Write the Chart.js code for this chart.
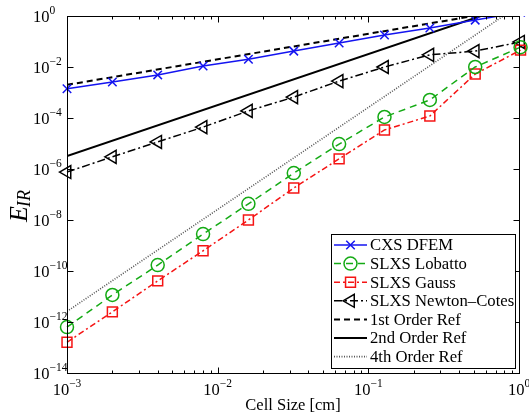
<!DOCTYPE html>
<html>
<head>
<meta charset="utf-8">
<script src="https://cdn.jsdelivr.net/npm/chart.js@4.4.0/dist/chart.umd.min.js"></script>
<style>
  html, body { margin: 0; padding: 0; background: #fff; }
  #wrap { width: 529px; height: 414px; }
</style>
</head>
<body>
<div id="wrap"><canvas id="chart" width="529" height="414"></canvas></div>
<script>
// Data (log-log)
const cellSize = [0.001, 0.002, 0.004, 0.008, 0.016, 0.032, 0.064, 0.128, 0.256, 0.512, 1.024];
const cxsDfem = [1.4e-3, 2.6e-3, 4.9e-3, 1.1e-2, 2.0e-2, 4.2e-2, 8.7e-2, 0.18, 0.34, 0.69, 1.4];
const slxsLobatto = [6.3e-13, 1.15e-11, 1.7e-10, 2.8e-9, 4.3e-8, 6.9e-7, 9.5e-6, 1.1e-4, 5.1e-4, 1.0e-2, 6.0e-2];
const slxsGauss = [1.6e-13, 2.5e-12, 4.1e-11, 6.2e-10, 1.0e-8, 1.8e-7, 2.5e-6, 3.4e-5, 1.2e-4, 5.3e-3, 4.6e-2];
const slxsNewtonCotes = [7.6e-7, 3.0e-6, 1.15e-5, 4.4e-5, 1.9e-4, 6.6e-4, 2.8e-3, 1.0e-2, 3.0e-2, 4.2e-2, 9.6e-2];

// reference slopes, two end points each
const refX = [0.001, 1.024];
const ref1st = [2.0e-3, 2.05];
const ref2nd = [3.2e-6, 3.36];
const ref4th = [2.6e-12, 2.86];

// axis ticks
const xMajorTicks = [1e-3, 1e-2, 1e-1, 1];
const xTickExp = [-3, -2, -1, 0];
const yTicks = [1, 1e-2, 1e-4, 1e-6, 1e-8, 1e-10, 1e-12, 1e-14];
const yTickExp = [0, -2, -4, -6, -8, -10, -12, -14];

const SERIF = '"Liberation Serif", "Times New Roman", serif';

function pts(xs, ys) {
    return xs.map((x, i) => ({ x: x, y: ys[i] }));
}

function seg(ctx, x1, y1, x2, y2) {
    ctx.beginPath();
    ctx.moveTo(x1, y1);
    ctx.lineTo(x2, y2);
    ctx.stroke();
}

// "10" with a raised exponent
function powLabel(ctx, exp, x, y, center) {
    const base = '10';
    const sup = exp === 0 ? '0' : '\u2212' + Math.abs(exp);
    ctx.font = '16.5px ' + SERIF;
    const bw = ctx.measureText(base).width;
    ctx.font = '11.5px ' + SERIF;
    const sw = ctx.measureText(sup).width;
    const x0 = center ? x - (bw + sw) / 2 : x;
    ctx.textAlign = 'left';
    ctx.textBaseline = 'alphabetic';
    ctx.font = '16.5px ' + SERIF;
    ctx.fillText(base, x0, y);
    ctx.font = '11.5px ' + SERIF;
    ctx.fillText(sup, x0 + bw, y - 8);
}

// axes box, inward ticks, labels, legend
const decor = {
    id: 'decor',
    afterDraw(chart) {
        const ctx = chart.ctx;
        const a = chart.chartArea;
        const xs = chart.scales.x, ys = chart.scales.y;
        const L = Math.round(a.left) + 0.5, R = Math.round(a.right) + 0.5;
        const T = Math.round(a.top) + 0.5, B = Math.round(a.bottom) + 0.5;
        ctx.save();
        ctx.strokeStyle = '#000';
        ctx.lineWidth = 1;
        ctx.setLineDash([]);
        ctx.strokeRect(L, T, R - L, B - T);

        // x ticks (major + minor)
        xMajorTicks.forEach((v, i) => {
            const px = Math.round(xs.getPixelForValue(v)) + 0.5;
            seg(ctx, px, B, px, B - 6);
            seg(ctx, px, T, px, T + 6);
            if (i < xMajorTicks.length - 1) {
                for (let m = 2; m <= 9; m++) {
                    const mx = Math.round(xs.getPixelForValue(v * m)) + 0.5;
                    seg(ctx, mx, B, mx, B - 3);
                    seg(ctx, mx, T, mx, T + 3);
                }
            }
        });
        yTicks.forEach(v => {
            const py = Math.round(ys.getPixelForValue(v)) + 0.5;
            seg(ctx, L, py, L + 6, py);
            seg(ctx, R, py, R - 6, py);
        });

        // tick labels
        ctx.fillStyle = '#000';
        xMajorTicks.forEach((v, i) => {
            powLabel(ctx, xTickExp[i], xs.getPixelForValue(v), 395, true);
        });
        yTicks.forEach((v, i) => {
            powLabel(ctx, yTickExp[i], 33, ys.getPixelForValue(v) + 6, false);
        });

        // axis titles
        ctx.font = '16.5px ' + SERIF;
        ctx.textAlign = 'center';
        ctx.textBaseline = 'alphabetic';
        ctx.fillText('Cell Size [cm]', (a.left + a.right) / 2, 410);

        ctx.save();
        ctx.translate(27, 222);
        ctx.rotate(-Math.PI / 2);
        ctx.textAlign = 'left';
        ctx.font = 'italic 26px ' + SERIF;
        ctx.fillText('E', 0, 0);
        const ew = ctx.measureText('E').width;
        ctx.font = 'italic 18px ' + SERIF;
        ctx.fillText('IR', ew - 1, 3);
        ctx.restore();

        // legend
        const bx = 331, by = 234, bw = 184, bh = 134;
        ctx.fillStyle = '#fff';
        ctx.fillRect(bx, by, bw, bh);
        ctx.strokeStyle = '#000';
        ctx.lineWidth = 1;
        ctx.strokeRect(bx + 0.5, by + 0.5, bw, bh);
        chart.data.datasets.forEach((ds, i) => {
            const y = 245 + i * 18.6;
            ctx.strokeStyle = ds.borderColor;
            ctx.lineWidth = ds.borderWidth;
            ctx.setLineDash(ds.borderDash || []);
            seg(ctx, 334, y, 367, y);
            ctx.setLineDash([]);
            if (ds.pointRadius > 0) {
                ctx.fillStyle = 'rgba(0,0,0,0)';
                ctx.strokeStyle = ds.pointBorderColor;
                ctx.lineWidth = ds.pointBorderWidth;
                Chart.helpers.drawPoint(ctx, {
                    pointStyle: ds.pointStyle,
                    rotation: ds.pointRotation || 0,
                    radius: ds.pointRadius,
                    borderWidth: ds.pointBorderWidth
                }, 350.5, y);
            }
            ctx.fillStyle = '#000';
            ctx.font = '16.7px ' + SERIF;
            ctx.textAlign = 'left';
            ctx.textBaseline = 'middle';
            ctx.fillText(ds.label, 370, y + 1);
        });
        ctx.restore();
    }
};

function series(label, ys, color, dash, style, radius, rotation) {
    return {
        label: label,
        data: pts(cellSize, ys),
        borderColor: color,
        borderWidth: 1.5,
        borderDash: dash,
        pointStyle: style,
        pointRadius: radius,
        pointRotation: rotation || 0,
        pointBorderColor: color,
        pointBackgroundColor: 'rgba(0,0,0,0)',
        pointBorderWidth: 1.5,
        clip: { left: 10, top: 0, right: 10, bottom: 10 }
    };
}

function refLine(label, ys, color, dash, width) {
    return {
        label: label,
        data: pts(refX, ys),
        borderColor: color,
        borderWidth: width,
        borderDash: dash,
        pointRadius: 0,
        clip: 0
    };
}

window.addEventListener('load', () => {
    const ctx = document.getElementById('chart').getContext('2d');
    new Chart(ctx, {
        type: 'line',
        data: {
            datasets: [
                series('CXS DFEM', cxsDfem, 'rgb(20,20,240)', [], 'crossRot', 6),
                series('SLXS Lobatto', slxsLobatto, 'rgb(20,170,20)', [7, 5], 'circle', 6.5),
                series('SLXS Gauss', slxsGauss, 'rgb(245,20,20)', [6, 3, 2, 3], 'rect', 7),
                series('SLXS Newton\u2013Cotes', slxsNewtonCotes, '#000', [8, 3, 2, 3], 'triangle', 7.5, -90),
                refLine('1st Order Ref', ref1st, '#000', [6, 4], 2),
                refLine('2nd Order Ref', ref2nd, '#000', [], 2),
                refLine('4th Order Ref', ref4th, '#555', [1, 1.5], 1.6)
            ]
        },
        options: {
            responsive: false,
            animation: false,
            devicePixelRatio: 1,
            layout: { padding: { left: 67, top: 16, right: 10, bottom: 41 } },
            elements: { line: { tension: 0 } },
            scales: {
                x: { type: 'logarithmic', min: 1e-3, max: 1, display: false },
                y: { type: 'logarithmic', min: 1e-14, max: 1, display: false }
            },
            plugins: {
                legend: { display: false },
                tooltip: { enabled: false }
            }
        },
        plugins: [decor]
    });
});
</script>
</body>
</html>
